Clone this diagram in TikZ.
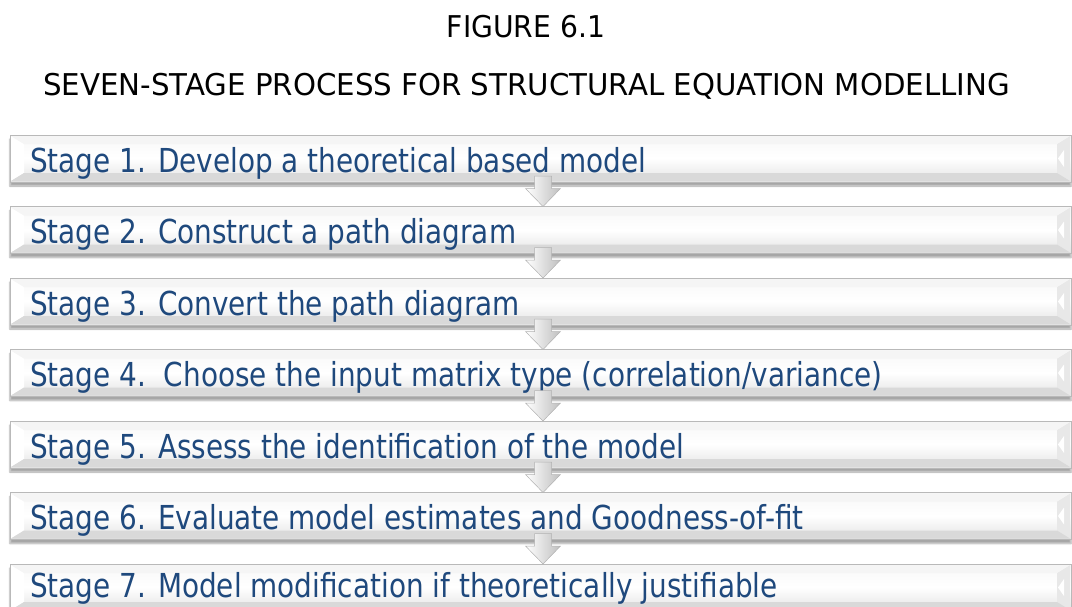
\documentclass[tikz,border=0pt]{standalone}
\usepackage{fontspec}
\usetikzlibrary{shadows.blur}
\newfontfamily\titlefont{DejaVu Sans}[FakeStretch=0.94]
\newfontfamily\titlefontb{DejaVu Sans}[FakeStretch=0.975]
\newfontfamily\stagefont{DejaVu Sans}[FakeStretch=0.845]
\definecolor{stageblue}{RGB}{31,73,125}
\tikzset{
  titletext/.style={anchor=base, inner sep=0pt, font=\titlefont\fontsize{30}{30}\selectfont, text=black},
  titletextb/.style={anchor=base, inner sep=0pt, font=\titlefontb\fontsize{30}{30}\selectfont, text=black},
  stagetext/.style={anchor=base west, inner sep=0pt, font=\stagefont\fontsize{33}{33}\selectfont, text=stageblue},
  barbody/.style={draw=gray!55, line width=0.8pt, top color=gray!6, bottom color=gray!22, middle color=white,
    blur shadow={shadow xshift=0pt, shadow yshift=-4pt, shadow blur steps=6, shadow opacity=35}},
  bevelL/.style={fill=white, draw=none},
  bevelR/.style={fill=gray!18, draw=none},
  flowarrow/.style={draw=gray!60, line width=0.5pt, left color=white, right color=gray!50},
}
\newcommand{\stagebar}[4]{% #1 name, #2 top y, #3 baseline offset, #4 text
  \path[barbody] (10,#2) rectangle (1071,#2+47);
  \path[bevelL] (11,#2+1) -- (24,#2+9) -- (24,#2+38) -- (11,#2+46) -- cycle;
  \path[bevelR] (1070,#2+1) -- (1057,#2+9) -- (1057,#2+38) -- (1070,#2+46) -- cycle;
  \path[fill=white] (1058,#2+23.5) -- (1064,#2+15) -- (1064,#2+32) -- cycle;
  \path[fill=gray!30] (24,#2+38) -- (1057,#2+38) -- (1070,#2+46) -- (11,#2+46) -- cycle;
  \path[fill=gray!8] (11,#2+1) -- (1070,#2+1) -- (1057,#2+9) -- (24,#2+9) -- cycle;
  \draw[gray!55, line width=0.8pt] (10,#2) rectangle (1071,#2+47);
  \node[stagetext] (#1) at (30,#2+#3) {#4};
  \coordinate (#1-top) at (543,#2);
  \coordinate (#1-bot) at (543,#2+47);
}
\newcommand{\flowarr}[2]{% between bar named #1 and bar named #2
  \path[flowarrow] ([xshift=-8.5pt,yshift=6pt]#1-bot) -- ([xshift=8.5pt,yshift=6pt]#1-bot)
    -- ([xshift=8.5pt,yshift=18pt]#2-top) -- ([xshift=17.5pt,yshift=18pt]#2-top) -- (#2-top)
    -- ([xshift=-17.5pt,yshift=18pt]#2-top) -- ([xshift=-8.5pt,yshift=18pt]#2-top) -- cycle;
}
\begin{document}
\begin{tikzpicture}[x=1pt,y=-1pt]
\useasboundingbox (0,0) rectangle (1072,606);
\clip (0,0) rectangle (1072,606);
\node[titletext] (fig) at (526,37) {FIGURE 6.1};
\node[titletextb] (ttl) at (526.5,95) {SEVEN-STAGE PROCESS FOR STRUCTURAL EQUATION MODELLING};
\stagebar{s1}{135}{37}{Stage 1. Develop a theoretical based model}
\stagebar{s2}{206.5}{37}{Stage 2. Construct a path diagram}
\stagebar{s3}{278}{37}{Stage 3. Convert the path diagram}
\stagebar{s4}{349.5}{37}{Stage 4.\ \ Choose the input matrix type (correlation/variance)}
\stagebar{s5}{421}{37}{Stage 5. Assess the identification of the model}
\stagebar{s6}{492.5}{37}{Stage 6. Evaluate model estimates and Goodness-of-fit}
\stagebar{s7}{564}{33}{Stage 7. Model modification if theoretically justifiable}
\flowarr{s1}{s2}
\flowarr{s2}{s3}
\flowarr{s3}{s4}
\flowarr{s4}{s5}
\flowarr{s5}{s6}
\flowarr{s6}{s7}
\end{tikzpicture}
\end{document}
